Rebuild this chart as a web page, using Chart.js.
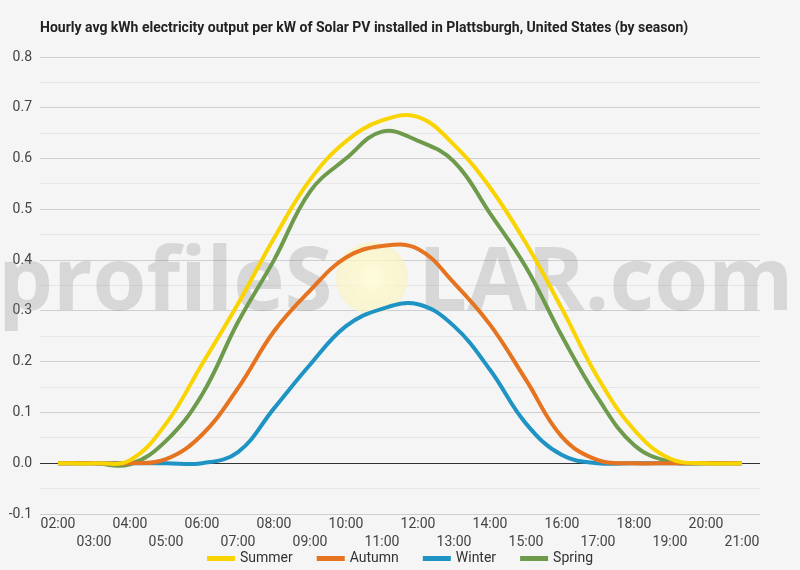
<!DOCTYPE html>
<html>
<head>
<meta charset="utf-8">
<script src="https://cdn.jsdelivr.net/npm/chart.js@4"></script>
<style>
  body { margin: 0; background: #f5f5f5; }
  #wrap { width: 800px; height: 570px; position: relative; }
</style>
</head>
<body>
<div id="wrap"><canvas id="solarChart"></canvas></div>
<script>
const hours = ["02:00", "03:00", "04:00", "05:00", "06:00", "07:00", "08:00", "09:00", "10:00", "11:00",
  "12:00", "13:00", "14:00", "15:00", "16:00", "17:00", "18:00", "19:00", "20:00", "21:00"];

const summer = [0, 0, 0.006, 0.078, 0.195, 0.314, 0.443, 0.558, 0.634, 0.675,
  0.682, 0.627, 0.543, 0.433, 0.304, 0.168, 0.066, 0.009, 0, 0];
const autumn = [0, 0, 0, 0.008, 0.056, 0.148, 0.26, 0.34, 0.405, 0.428,
  0.422, 0.355, 0.273, 0.164, 0.052, 0.006, 0, 0, 0, 0];
const winter = [0, 0, 0, 0, 0, 0.022, 0.108, 0.194, 0.27, 0.304,
  0.313, 0.27, 0.184, 0.078, 0.016, 0, 0, 0, 0, 0];
const spring = [0, 0, -0.002, 0.044, 0.135, 0.278, 0.4, 0.535, 0.6, 0.653,
  0.635, 0.594, 0.492, 0.386, 0.25, 0.128, 0.036, 0.003, 0, 0];

const titleText = "Hourly avg kWh electricity output per kW of Solar PV installed in Plattsburgh, United States (by season)";

// title, legend and watermark are painted by hand
const extras = {
  id: "extras",
  beforeDatasetsDraw(chart) {
    const ctx = chart.ctx;
    ctx.save();
    const g = ctx.createRadialGradient(372, 278, 4, 372, 278, 36);
    g.addColorStop(0, "rgba(255, 252, 215, 0.9)");
    g.addColorStop(1, "rgba(250, 242, 185, 0.6)");
    ctx.fillStyle = g;
    ctx.beginPath();
    ctx.arc(372, 278, 36, 0, Math.PI * 2);
    ctx.fill();
    ctx.fillStyle = "rgba(120, 120, 120, 0.24)";
    ctx.font = "bold 87px 'Open Sans'";
    ctx.textBaseline = "alphabetic";
    ctx.fillText("profileS", -2, 310);
    ctx.fillText("LAR.com", 418, 310);
    ctx.restore();
  },
  afterDraw(chart) {
    const ctx = chart.ctx;
    ctx.save();
    ctx.fillStyle = "#222";
    ctx.font = "bold 14px Roboto";
    ctx.textBaseline = "middle";
    ctx.fillText(titleText, 40, 28);

    // legend
    ctx.font = "14px Roboto";
    const sets = chart.data.datasets;
    const box = 28, gap = 5, pad = 24;
    const widths = sets.map((d) => box + gap + ctx.measureText(d.label).width);
    const total = widths.reduce((a, b) => a + b, 0) + pad * (sets.length - 1);
    let x = 400 - total / 2;
    sets.forEach((d, i) => {
      ctx.fillStyle = d.borderColor;
      ctx.fillRect(x, 556, box, 5);
      ctx.fillStyle = "#333";
      ctx.fillText(d.label, x + box + gap, 558);
      x += widths[i] + pad;
    });
    ctx.restore();
  }
};

const line = (label, data, color) => ({
  label: label,
  data: data,
  borderColor: color,
  backgroundColor: color,
  borderWidth: 4,
  pointRadius: 0,
  tension: 0.4,
  fill: false,
});

new Chart(document.getElementById("solarChart"), {
  type: "line",
  data: {
    labels: hours,
    datasets: [
      line("Summer", summer, "#f9d400"),
      line("Autumn", autumn, "#e5731f"),
      line("Winter", winter, "#1f93c4"),
      line("Spring", spring, "#6e9a4c"),
    ],
  },
  options: {
    responsive: true,
    maintainAspectRatio: false,
    animation: false,
    layout: { padding: { top: 57, right: 40, left: 0, bottom: 17 } },
    plugins: {
      title: { display: false },
      tooltip: { enabled: false },
      legend: { display: false },
    },
    scales: {
      x: {
        offset: true,
        grid: { display: false, drawTicks: false },
        border: { display: false },
        ticks: {
          autoSkip: false,
          maxRotation: 0,
          padding: 2,
          color: "#444",
          font: { family: "Roboto", size: 14, lineHeight: 1.25 },
          callback: (v, i) => (i % 2 === 0 ? hours[i] : ["", hours[i]]),
        },
      },
      y: {
        min: -0.1,
        max: 0.8,
        afterFit: (s) => { s.width = 40; },
        border: { display: false },
        grid: {
          drawTicks: false,
          color: (c) => {
            const k = Math.round(c.tick.value * 100);
            if (k === 0) return "#333";
            return k % 10 === 0 ? "#cfcfcf" : "#e6e6e6";
          },
        },
        ticks: {
          stepSize: 0.05,
          padding: 8,
          color: "#444",
          font: { family: "Roboto", size: 14 },
          callback: (v) => (Math.round(v * 100) % 10 === 0 ? v.toFixed(1) : ""),
        },
      },
    },
  },
  plugins: [extras],
});
</script>
</body>
</html>
